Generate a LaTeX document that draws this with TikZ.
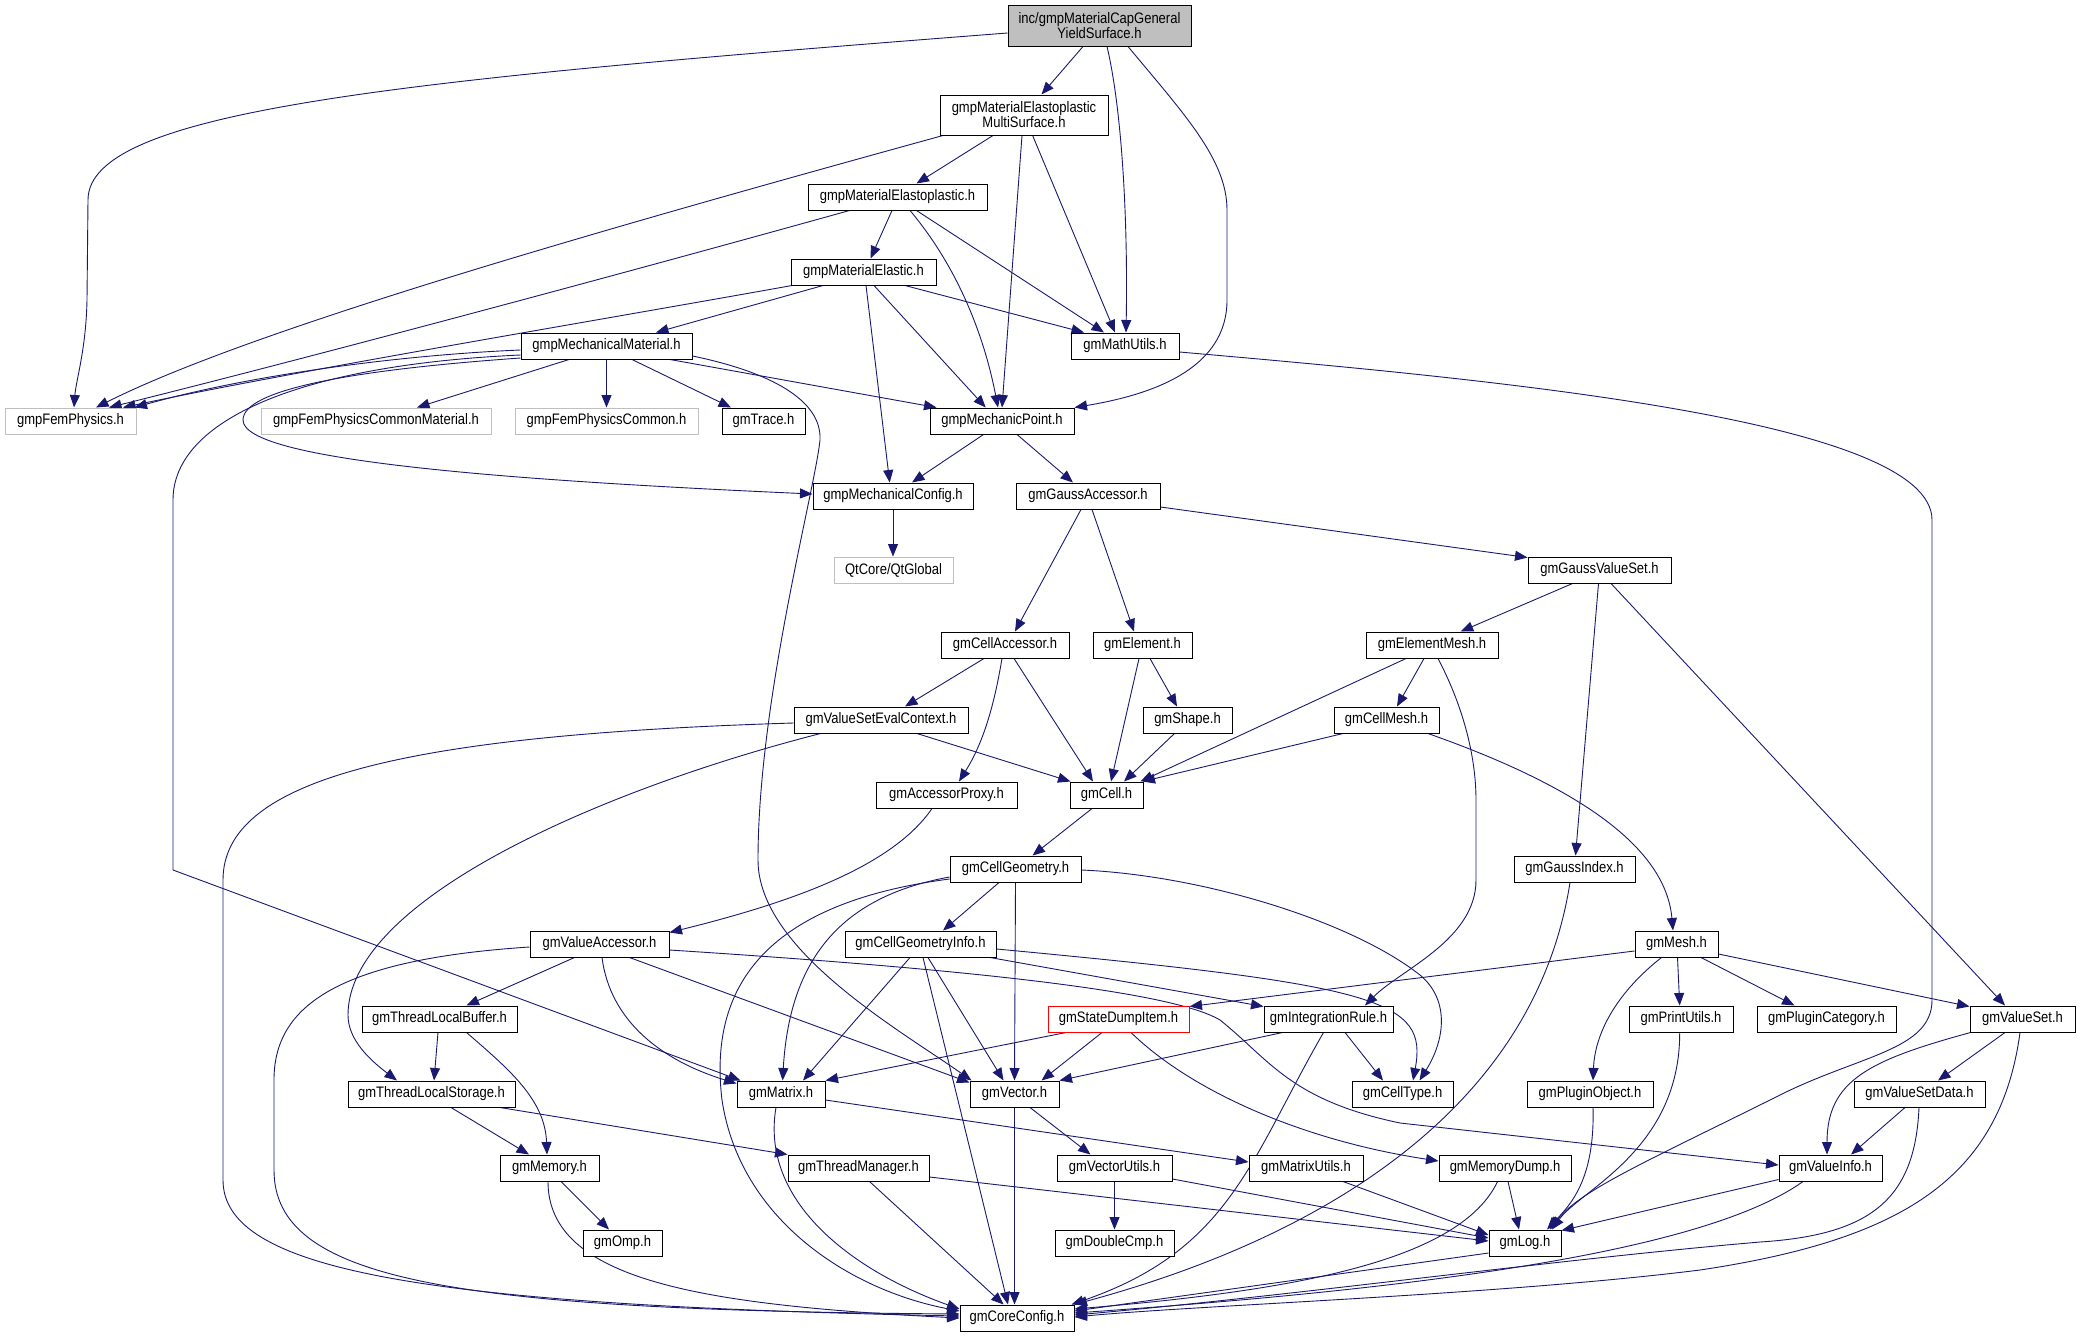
\documentclass[tikz,border=0pt]{standalone}
\usepackage{graphicx}
\usepackage{fontspec}
\setmainfont{Liberation Sans}
\usetikzlibrary{arrows.meta}
\definecolor{edgec}{RGB}{25,25,112}
\definecolor{grayb}{RGB}{191,191,191}
\newcommand{\tx}[1]{\scalebox{1}[1.17]{#1}}
\pgfdeclarelayer{bg}
\pgfsetlayers{bg,main}
\begin{document}
\begin{tikzpicture}[x=1pt,y=-1pt,
  box/.style={draw=black, line width=1pt, fill=white, minimum height=26pt, inner sep=2pt, font=\fontsize{13}{15}\selectfont, anchor=center},
  gbox/.style={box, draw=grayb},
  e/.style={draw=edgec, line width=0.9pt, -{Triangle[length=12.5pt,width=10pt]}}]
\useasboundingbox (0,0) rectangle (2080,1336);
% nodes
\node[box, fill=grayb, minimum width=183pt, minimum height=41pt, align=center] (root) at (1099.5,25.5) {\tx{inc/gmpMaterialCapGeneral}\\\tx{YieldSurface.h}};
\node[box, minimum width=168pt, minimum height=40pt, align=center] (multi) at (1024,115) {\tx{gmpMaterialElastoplastic}\\\tx{MultiSurface.h}};
\node[box, minimum width=179pt] (eplast) at (897.5,197) {\tx{gmpMaterialElastoplastic.h}};
\node[box, minimum width=145pt] (elastic) at (863.5,272) {\tx{gmpMaterialElastic.h}};
\node[box, minimum width=171pt] (mechmat) at (606.5,346) {\tx{gmpMechanicalMaterial.h}};
\node[box, minimum width=108pt] (mathutils) at (1125,346) {\tx{gmMathUtils.h}};
\node[gbox, minimum width=131pt] (femphys) at (70.5,421) {\tx{gmpFemPhysics.h}};
\node[gbox, minimum width=230pt] (commonmat) at (376,421) {\tx{gmpFemPhysicsCommonMaterial.h}};
\node[gbox, minimum width=183pt] (common) at (606.5,421) {\tx{gmpFemPhysicsCommon.h}};
\node[box, minimum width=83pt] (trace) at (763.5,421) {\tx{gmTrace.h}};
\node[box, minimum width=144pt] (mechpoint) at (1002,421) {\tx{gmpMechanicPoint.h}};
\node[box, minimum width=160pt] (mechconfig) at (893,496) {\tx{gmpMechanicalConfig.h}};
\node[box, minimum width=144pt] (gaussacc) at (1088,496) {\tx{gmGaussAccessor.h}};
\node[gbox, minimum width=119pt] (qtglobal) at (893.5,570) {\tx{QtCore/QtGlobal}};
\node[box, minimum width=143pt] (gaussvs) at (1599.5,570) {\tx{gmGaussValueSet.h}};
\node[box, minimum width=128pt] (cellacc) at (1005,645) {\tx{gmCellAccessor.h}};
\node[box, minimum width=99pt] (element) at (1142.5,645) {\tx{gmElement.h}};
\node[box, minimum width=132pt] (elemmesh) at (1432,645) {\tx{gmElementMesh.h}};
\node[box, minimum width=174pt] (vseval) at (881,720) {\tx{gmValueSetEvalContext.h}};
\node[box, minimum width=89pt] (shape) at (1187.5,720) {\tx{gmShape.h}};
\node[box, minimum width=105pt] (cellmesh) at (1386.5,720) {\tx{gmCellMesh.h}};
\node[box, minimum width=141pt] (accproxy) at (946.5,795) {\tx{gmAccessorProxy.h}};
\node[box, minimum width=73pt] (cell) at (1106.5,795) {\tx{gmCell.h}};
\node[box, minimum width=131pt] (cellgeom) at (1015.5,869) {\tx{gmCellGeometry.h}};
\node[box, minimum width=121pt] (gaussidx) at (1574.5,869) {\tx{gmGaussIndex.h}};
\node[box, minimum width=139pt] (valacc) at (599.5,944) {\tx{gmValueAccessor.h}};
\node[box, minimum width=151pt] (cgi) at (920.5,944) {\tx{gmCellGeometryInfo.h}};
\node[box, minimum width=83pt] (mesh) at (1676.5,944) {\tx{gmMesh.h}};
\node[box, minimum width=155pt] (tlbuf) at (439.5,1019) {\tx{gmThreadLocalBuffer.h}};
\node[box, draw=red, minimum width=141pt] (sdi) at (1118.5,1019) {\tx{gmStateDumpItem.h}};
\node[box, minimum width=129pt] (intrule) at (1328.5,1019) {\tx{gmIntegrationRule.h}};
\node[box, minimum width=104pt] (printutils) at (1681,1019) {\tx{gmPrintUtils.h}};
\node[box, minimum width=139pt] (plugincat) at (1826.5,1019) {\tx{gmPluginCategory.h}};
\node[box, minimum width=105pt] (valueset) at (2022.5,1019) {\tx{gmValueSet.h}};
\node[box, minimum width=167pt] (tlstor) at (431.5,1094) {\tx{gmThreadLocalStorage.h}};
\node[box, minimum width=88pt] (matrix) at (781,1094) {\tx{gmMatrix.h}};
\node[box, minimum width=89pt] (vector) at (1014.5,1094) {\tx{gmVector.h}};
\node[box, minimum width=101pt] (celltype) at (1402.5,1094) {\tx{gmCellType.h}};
\node[box, minimum width=126pt] (pluginobj) at (1590,1094) {\tx{gmPluginObject.h}};
\node[box, minimum width=131pt] (vsdata) at (1919.5,1094) {\tx{gmValueSetData.h}};
\node[box, minimum width=99pt] (memory) at (549.5,1168) {\tx{gmMemory.h}};
\node[box, minimum width=141pt] (threadmgr) at (858.5,1168) {\tx{gmThreadManager.h}};
\node[box, minimum width=115pt] (vecutils) at (1114.5,1168) {\tx{gmVectorUtils.h}};
\node[box, minimum width=114pt] (matutils) at (1306,1168) {\tx{gmMatrixUtils.h}};
\node[box, minimum width=132pt] (memdump) at (1505,1168) {\tx{gmMemoryDump.h}};
\node[box, minimum width=103pt] (valueinfo) at (1830.5,1168) {\tx{gmValueInfo.h}};
\node[box, minimum width=79pt] (omp) at (622.5,1243) {\tx{gmOmp.h}};
\node[box, minimum width=119pt] (doublecmp) at (1114.5,1243) {\tx{gmDoubleCmp.h}};
\node[box, minimum width=72pt] (log) at (1525,1243) {\tx{gmLog.h}};
\node[box, minimum width=114pt] (coreconfig) at (1017,1318) {\tx{gmCoreConfig.h}};
% edges
\begin{pgfonlayer}{bg}
\draw[e] ([xshift=-16.5pt]root.south) -- ([xshift=17.5pt]multi.north);
\draw[e] ([xshift=7.5pt]root.south) .. controls (1122,110) and (1128,220) .. ([xshift=1pt]mathutils.north);
\draw[e] ([xshift=28.5pt]root.south) .. controls (1185,115) and (1227,160) .. (1227,210) -- (1227,300) .. controls (1227,370) and (1150,395) .. (mechpoint.north east);
\draw[e] ([yshift=-7.5pt]root.west) .. controls (400,80) and (88,110) .. (88,200) -- (87,300) .. controls (86,350) and (76,380) .. ([xshift=3.5pt]femphys.north);
\draw[e] ([xshift=-31pt]multi.south) -- ([xshift=19pt]eplast.north);
\draw[e] ([xshift=-2pt]multi.south) -- (mechpoint.north);
\draw[e] ([xshift=8.6pt]multi.south) -- ([xshift=-10pt]mathutils.north);
\draw[e] ([xshift=-81pt]multi.south) .. controls (600,230) and (250,330) .. ([xshift=25.5pt]femphys.north);
\draw[e] ([xshift=-48pt]eplast.south) .. controls (600,280) and (300,360) .. ([xshift=38.5pt]femphys.north);
\draw[e] ([xshift=-5.5pt]eplast.south) -- ([xshift=7pt]elastic.north);
\draw[e] ([xshift=12.5pt]eplast.south) .. controls (960,270) and (985,340) .. ([xshift=-4pt]mechpoint.north);
\draw[e] ([xshift=19pt]eplast.south) -- ([xshift=-21pt]mathutils.north);
\draw[e] ([xshift=-71.5pt]elastic.south) .. controls (600,320) and (300,370) .. ([xshift=52.5pt]femphys.north);
\draw[e] ([xshift=-40.5pt]elastic.south) -- ([xshift=49.5pt]mechmat.north);
\draw[e] ([xshift=2.5pt]elastic.south) -- ([xshift=-3.3pt]mechconfig.north);
\draw[e] ([xshift=10.5pt]elastic.south) -- ([xshift=-16.3pt]mechpoint.north);
\draw[e] ([xshift=41.5pt]elastic.south) -- ([xshift=-41pt]mathutils.north);
\draw[e] ([yshift=-6pt]mathutils.east) .. controls (1500,380) and (1932,420) .. (1932,520) -- (1932,1000) .. controls (1932,1050) and (1860,1055) .. (1780,1095) .. controls (1650,1160) and (1580,1190) .. ([xshift=25pt]log.north);
\draw[e] ([yshift=-4pt]mechmat.west) .. controls (400,355) and (250,375) .. ([xshift=-2pt]femphys.north east);
\draw[e] ([yshift=-9pt]mechmat.west) .. controls (300,365) and (173,420) .. (173,500) -- (173,870) -- ([xshift=4pt]matrix.north west);
\draw[e] ([yshift=-12pt]mechmat.west) .. controls (350,370) and (243,390) .. (243,420) .. controls (243,460) and (500,480) .. ([yshift=2pt]mechconfig.west);
\draw[e] ([xshift=-37.5pt]mechmat.south) -- ([xshift=41pt]commonmat.north);
\draw[e] (mechmat.south) -- (common.north);
\draw[e] ([xshift=25.5pt]mechmat.south) -- ([xshift=-32.5pt]trace.north);
\draw[e] ([xshift=63.5pt]mechmat.south) -- ([xshift=7pt]mechpoint.north west);
\draw[e] ([yshift=-10pt]mechmat.east) .. controls (770,372) and (822,400) .. (820,440) .. controls (815,490) and (758,700) .. (758,860) .. controls (758,950) and (900,1030) .. ([xshift=2pt]vector.north west);
\draw[e] ([xshift=-18.5pt]mechpoint.south) -- ([xshift=19pt]mechconfig.north);
\draw[e] ([xshift=15pt]mechpoint.south) -- ([xshift=-15pt]gaussacc.north);
\draw[e] (mechconfig.south) -- ([xshift=-0.5pt]qtglobal.north);
\draw[e] ([xshift=-7pt]gaussacc.south) -- ([xshift=10pt]cellacc.north);
\draw[e] ([xshift=4pt]gaussacc.south) -- ([xshift=-8.5pt]element.north);
\draw[e] ([yshift=-11pt]gaussacc.east) -- ([yshift=-1pt]gaussvs.north west);
\draw[e] ([xshift=-27pt]gaussvs.south) -- ([xshift=28.7pt]elemmesh.north);
\draw[e] ([xshift=-1pt]gaussvs.south) -- ([xshift=1pt]gaussidx.north);
\draw[e] ([xshift=11.5pt]gaussvs.south) -- ([xshift=-17.5pt]valueset.north);
\draw[e] ([xshift=-21pt]cellacc.south) -- ([xshift=24pt]vseval.north);
\draw[e] ([xshift=-3pt]cellacc.south) .. controls (995,700) and (985,740) .. ([xshift=12.5pt]accproxy.north);
\draw[e] ([xshift=9pt]cellacc.south) -- ([xshift=-13.5pt]cell.north);
\draw[e] ([xshift=-3.5pt]element.south) -- ([xshift=4.5pt]cell.north);
\draw[e] ([xshift=7.5pt]element.south) -- ([xshift=-10.5pt]shape.north);
\draw[e] ([xshift=-13pt]shape.south) -- ([xshift=17.5pt]cell.north);
\draw[e] ([xshift=-26pt]elemmesh.south) -- ([xshift=-3pt]cell.north east);
\draw[e] ([xshift=-8pt]elemmesh.south) -- ([xshift=10.5pt]cellmesh.north);
\draw[e] ([xshift=6pt]elemmesh.south) .. controls (1465,710) and (1476,760) .. (1476,800) -- (1476,880) .. controls (1476,940) and (1400,970) .. ([xshift=36.5pt]intrule.north);
\draw[e] ([xshift=-43.5pt]cellmesh.south) -- ([xshift=-1pt]cell.north east);
\draw[e] ([xshift=41.5pt]cellmesh.south) .. controls (1560,780) and (1665,840) .. ([xshift=-3.5pt]mesh.north);
\draw[e] ([xshift=36pt]vseval.south) -- ([xshift=1pt]cell.north west);
\draw[e] ([yshift=-3pt]vseval.west) .. controls (400,735) and (223,780) .. (223,880) -- (223,1180) .. controls (223,1270) and (420,1305) .. ([yshift=2pt]coreconfig.west);
\draw[e] ([xshift=-60.5pt]vseval.south) .. controls (600,790) and (348,900) .. (348,1015) .. controls (348,1040) and (370,1060) .. ([xshift=-34.5pt]tlstor.north);
\draw[e] ([xshift=-14.5pt]accproxy.south) .. controls (890,870) and (780,905) .. ([yshift=-2pt]valacc.north east);
\draw[e] ([xshift=-14.5pt]cell.south) -- ([xshift=17pt]cellgeom.north);
\draw[e] ([xshift=-4.5pt]gaussidx.south) .. controls (1525,1170) and (1200,1270) .. (coreconfig.north east);
\draw[e] ([yshift=-7pt]mesh.west) -- ([yshift=-1pt]sdi.north east);
\draw[e] ([xshift=1pt]mesh.south) -- ([xshift=-1.3pt]printutils.north);
\draw[e] ([xshift=24.5pt]mesh.south) -- ([xshift=-32pt]plugincat.north);
\draw[e] ([yshift=-10pt]mesh.east) -- ([yshift=-1pt]valueset.north west);
\draw[e] ([xshift=-15pt]mesh.south) .. controls (1620,990) and (1595,1030) .. ([xshift=3pt]pluginobj.north);
\draw[e] ([xshift=-1.3pt]printutils.south) .. controls (1680,1150) and (1580,1190) .. ([xshift=27pt]log.north);
\draw[e] ([xshift=3pt]pluginobj.south) .. controls (1595,1180) and (1570,1205) .. ([xshift=22pt]log.north);
\draw[e] ([xshift=1pt]valueset.south west) .. controls (1870,1060) and (1827,1080) .. ([xshift=-3.5pt]valueinfo.north);
\draw[e] ([xshift=-17.5pt]valueset.south) -- ([xshift=18.5pt]vsdata.north);
\draw[e] ([xshift=-2.5pt]valueset.south) .. controls (2000,1180) and (1900,1240) .. (1700,1270) .. controls (1500,1295) and (1200,1305) .. ([yshift=1pt]coreconfig.east);
\draw[e] ([xshift=-14.5pt]vsdata.south) -- ([xshift=20.5pt]valueinfo.north);
\draw[e] ([xshift=-0.5pt]vsdata.south) .. controls (1915,1200) and (1870,1235) .. (1760,1242) .. controls (1550,1260) and (1300,1295) .. ([yshift=3pt]coreconfig.east);
\draw[e] ([yshift=2pt]valueinfo.south west) -- ([yshift=-1pt]log.north east);
\draw[e] ([xshift=-27.5pt]valueinfo.south) .. controls (1700,1255) and (1400,1290) .. ([yshift=5pt]coreconfig.east);
\draw[e] ([xshift=3pt]memdump.south) -- ([xshift=-6pt]log.north);
\draw[e] ([xshift=-7.4pt]memdump.south) .. controls (1460,1260) and (1300,1290) .. ([yshift=9pt]coreconfig.east);
\draw[e] ([yshift=-10pt]log.west) -- ([yshift=7pt]coreconfig.east);
\draw[e] ([xshift=37pt]matutils.south) -- ([yshift=8pt]log.west);
\draw[e] ([yshift=-11pt]vecutils.east) -- ([yshift=5pt]log.west);
\draw[e] ([yshift=-9pt]threadmgr.east) -- ([yshift=2pt]log.west);
\draw[e] ([xshift=12.5pt]sdi.south) .. controls (1190,1090) and (1300,1140) .. ([yshift=7pt]memdump.west);
\draw[e] ([xshift=-52.5pt]sdi.south) -- (matrix.north east);
\draw[e] ([xshift=-16.5pt]sdi.south) -- ([xshift=27pt]vector.north);
\draw[e] ([xshift=-46pt]intrule.south) -- (vector.north east);
\draw[e] ([xshift=16.5pt]intrule.south) -- ([xshift=-19.5pt]celltype.north);
\draw[e] ([xshift=-5pt]intrule.south) .. controls (1250,1160) and (1230,1250) .. ([xshift=-3pt]coreconfig.north east);
\draw[e] ([xshift=-10.5pt]cgi.south) -- ([xshift=22pt]matrix.north);
\draw[e] ([xshift=7.5pt]cgi.south) -- ([xshift=-11pt]vector.north);
\draw[e] ([xshift=2.5pt]cgi.south) -- ([xshift=-9pt]coreconfig.north);
\draw[e] ([xshift=69.5pt]cgi.south) -- ([yshift=-1pt]intrule.north west);
\draw[e] ([yshift=-5pt]cgi.east) .. controls (1380,985) and (1428,1000) .. ([xshift=10.5pt]celltype.north);
\draw[e] ([yshift=-1pt]cellgeom.east) .. controls (1200,875) and (1350,920) .. (1420,975) .. controls (1450,1000) and (1445,1040) .. ([xshift=17pt]celltype.north);
\draw[e] ([xshift=-16.5pt]cellgeom.south) -- ([xshift=22.5pt]cgi.north);
\draw[e] (cellgeom.south) -- (vector.north);
\draw[e] ([yshift=-8pt]cellgeom.west) .. controls (850,895) and (790,950) .. ([xshift=1.6pt]matrix.north);
\draw[e] ([yshift=-10pt]cellgeom.west) .. controls (750,905) and (710,1000) .. (722,1100) .. controls (740,1220) and (850,1290) .. ([yshift=7pt]coreconfig.west);
\draw[e] ([yshift=-3pt]valacc.west) .. controls (330,960) and (274,1010) .. (274,1080) -- (274,1170) .. controls (274,1280) and (450,1310) .. ([yshift=4pt]coreconfig.west);
\draw[e] ([xshift=-25pt]valacc.south) -- ([xshift=27pt]tlbuf.north);
\draw[e] ([xshift=2.5pt]valacc.south) .. controls (610,1020) and (660,1060) .. ([yshift=-3pt]matrix.north west);
\draw[e] ([xshift=30pt]valacc.south) -- ([yshift=-2pt]vector.north west);
\draw[e] ([yshift=-6pt]valacc.east) .. controls (950,968) and (1170,990) .. (1220,1020) .. controls (1270,1060) and (1290,1100) .. (1400,1123) -- ([yshift=3pt]valueinfo.west);
\draw[e] ([xshift=-1.5pt]tlbuf.south) -- ([xshift=2.5pt]tlstor.north);
\draw[e] ([xshift=27pt]tlbuf.south) .. controls (510,1070) and (545,1100) .. ([xshift=-2.5pt]memory.north);
\draw[e] ([xshift=19.5pt]tlstor.south) -- ([xshift=-20.5pt]memory.north);
\draw[e] ([xshift=68.5pt]tlstor.south) -- (threadmgr.north west);
\draw[e] ([xshift=11.5pt]memory.south) -- ([xshift=-13.5pt]omp.north);
\draw[e] ([xshift=-1.5pt]memory.south) .. controls (548,1280) and (700,1305) .. (coreconfig.west);
\draw[e] ([xshift=-5pt]matrix.south) .. controls (760,1200) and (850,1270) .. ([yshift=9pt]coreconfig.west);
\draw[e] ([yshift=-6pt]matrix.east) -- ([yshift=6pt]matutils.west);
\draw[e] (vector.south) -- ([xshift=-2.5pt]coreconfig.north);
\draw[e] ([xshift=15.5pt]vector.south) -- ([xshift=-24pt]vecutils.north);
\draw[e] ([xshift=11pt]threadmgr.south) -- ([xshift=-13.4pt]coreconfig.north);
\draw[e] (vecutils.south) -- (doublecmp.north);
\end{pgfonlayer}
\end{tikzpicture}
\end{document}
